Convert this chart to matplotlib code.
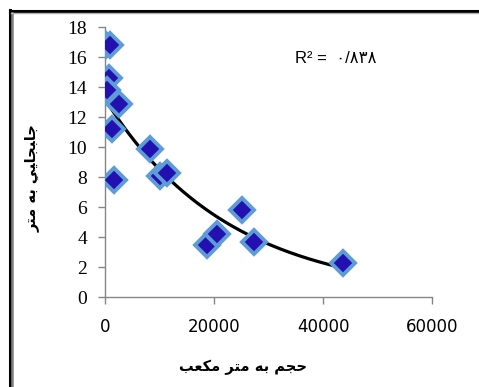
import numpy as np
import matplotlib
matplotlib.use("Agg")
import matplotlib.pyplot as plt
from matplotlib.lines import Line2D

# ---- data ----
volume_m3 = [100, 1000, 800, 400, 2600, 1200, 1700, 8300, 10000, 11300,
             18800, 20600, 25100, 27300, 43700]
displacement_m = [16.8, 16.8, 14.6, 13.8, 12.9, 11.2, 7.8, 9.9, 8.1, 8.3,
                  3.5, 4.2, 5.8, 3.7, 2.3]
# exponential trendline y = a * exp(b * x)
trend_a = 13.2
trend_b = -4.4e-5
x_ticks = [0, 20000, 40000, 60000]
y_ticks = [0, 2, 4, 6, 8, 10, 12, 14, 16, 18]
r2_label = "R\u00b2 =  \u0660/\u0668\u0663\u0668"
# Persian labels written in presentation forms, visual (left-to-right) order
x_label = "\uFE90\uFECC\uFEDC\uFEE3 \uFEAE\uFE98\uFEE3 \uFEEA\uFE91 \uFEE2\uFEA0\uFEA3"
y_label = "\uFEAE\uFE98\uFEE3 \uFEEA\uFE91 \uFEF2\uFEF4\uFE8E\uFEA0\uFE92\uFE8E\uFE9F"

W, H = 479, 387
fig = plt.figure(figsize=(W / 100, H / 100), dpi=100)
fig.patch.set_facecolor("white")

ax = fig.add_axes([105 / W, 1 - 297 / H, (432 - 105) / W, (297 - 27) / H])

x = np.array(volume_m3, dtype=float)
y = np.array(displacement_m, dtype=float)

xt = np.linspace(0, x.max(), 200)
ax.plot(xt, trend_a * np.exp(trend_b * xt), color="black", lw=2.3, zorder=2)

ax.plot(x, y, linestyle="none", marker="D", markersize=12.5,
        markerfacecolor="#2310B0", markeredgecolor="#5F9BD6",
        markeredgewidth=2.8, zorder=3)

ax.set_xlim(0, 60000)
ax.set_ylim(0, 18)
ax.set_xticks(x_ticks)
ax.set_yticks(y_ticks)
ax.set_xticklabels([str(t) for t in x_ticks], family="DejaVu Sans", fontsize=12)
ax.set_yticklabels([str(t) for t in y_ticks], family="Liberation Serif", fontsize=14)
for s in ("top", "right"):
    ax.spines[s].set_visible(False)
for s in ("left", "bottom"):
    ax.spines[s].set_color("#868686")
    ax.spines[s].set_linewidth(1.0)
ax.tick_params(axis="both", colors="#868686", labelcolor="black", length=5, width=1.0)
ax.tick_params(axis="x", pad=10)
ax.tick_params(axis="y", pad=8)
ax.set_facecolor("none")
for sp in ax.spines.values():
    sp.set_zorder(1)

ax.text(34800, 15.9, r2_label, fontsize=12, va="center", ha="left",
        family=["Liberation Sans", "DejaVu Sans"])

fig.text(243 / W, 1 - 367 / H, x_label, fontsize=10.5, fontweight="bold",
         ha="center", va="center", family="DejaVu Sans")
fig.text(32 / W, 1 - 178 / H, y_label, fontsize=10.5, fontweight="bold",
         rotation=90, ha="center", va="center", family="DejaVu Sans")

# frame border (black outer, grey inner) along top and left
def px(xp, yp):
    return xp / W, 1 - yp / H
fig.add_artist(Line2D([px(9.5, 0)[0], px(9.5, 0)[0]], [px(0, 10)[1], 0],
                      transform=fig.transFigure, color="black", lw=2.2))
fig.add_artist(Line2D([px(9.5, 0)[0], 1], [px(0, 11)[1], px(0, 11)[1]],
                      transform=fig.transFigure, color="black", lw=2.2))
fig.add_artist(Line2D([px(12.3, 0)[0], px(12.3, 0)[0]], [px(0, 12.5)[1], 0],
                      transform=fig.transFigure, color="#808080", lw=1.8))
fig.add_artist(Line2D([px(11, 0)[0], 1], [px(0, 13.3)[1], px(0, 13.3)[1]],
                      transform=fig.transFigure, color="#b0b0b0", lw=1.0))

fig.savefig("out.png", dpi=100)
